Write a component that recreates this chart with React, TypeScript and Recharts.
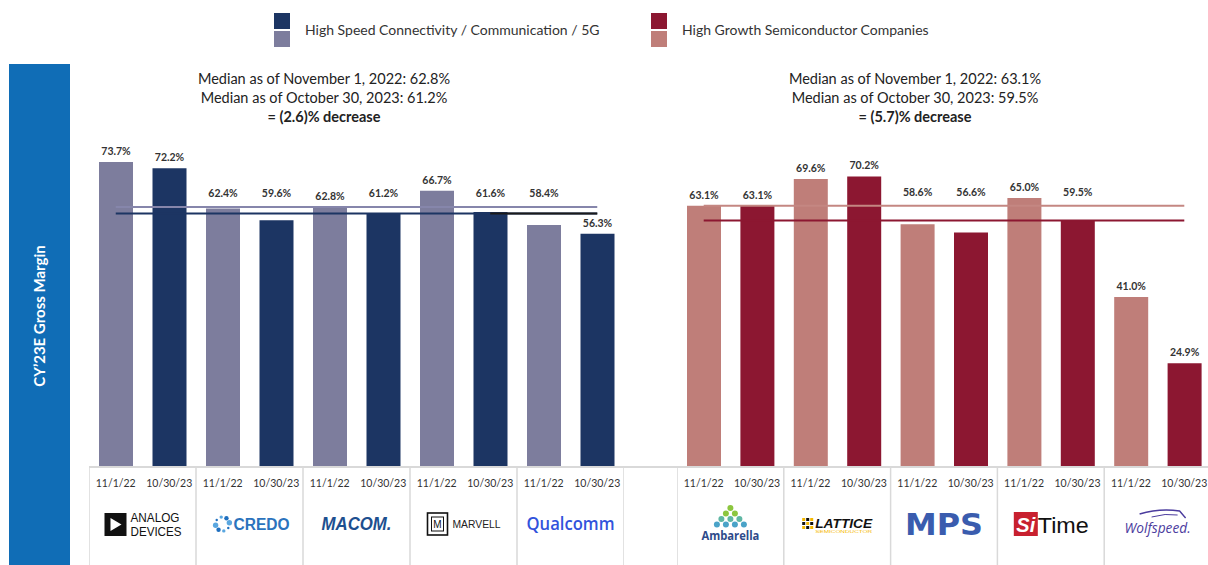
import React from 'react'
import { ComposedChart, Bar, Line, Cell, XAxis, YAxis, LabelList } from 'recharts'

const FONT = 'Lato, "Open Sans", sans-serif'

const DATES = ['11/1/22', '10/30/23']

const connectivityCompanies = ['Analog Devices', 'Credo', 'MACOM', 'Marvell', 'Qualcomm']
const connectivityNov22 = [73.7, 62.4, 62.8, 66.7, 58.4]
const connectivityOct23 = [72.2, 59.6, 61.2, 61.6, 56.3]
const connectivityMedians = [62.8, 61.2]
const connectivityChange = 2.6

const growthCompanies = ['Ambarella', 'Lattice', 'MPS', 'SiTime', 'Wolfspeed']
const growthNov22 = [63.1, 69.6, 58.6, 65.0, 41.0]
const growthOct23 = [63.1, 70.2, 56.6, 59.5, 24.9]
const growthMedians = [63.1, 59.5]
const growthChange = 5.7

// the 2023 median line turns black over the last three bars on the left panel
const connectivityTailFrom = 7

const NAVY = '#1c3563'
const LAVENDER = '#7d7d9d'
const CRIMSON = '#8c1731'
const ROSE = '#bf7e79'
const BORDER = '#d9d9d9'

type Row = {
  key: string
  company: string
  date: string
  period: number
  value: number
  medPrev: number
  medCurr: number
  medTail: number | null
}

function buildRows(companies: string[], prev: number[], curr: number[], medians: number[], tailFrom = 99): Row[] {
  const rows: Row[] = []
  companies.forEach((company, i) => {
    ;[prev[i], curr[i]].forEach((value, p) => {
      const idx = rows.length
      rows.push({
        key: `${company}-${p}`,
        company,
        date: DATES[p],
        period: p,
        value,
        medPrev: medians[0],
        medCurr: medians[1],
        medTail: idx >= tailFrom ? medians[1] : null,
      })
    })
  })
  return rows
}

const leftRows = buildRows(connectivityCompanies, connectivityNov22, connectivityOct23, connectivityMedians, connectivityTailFrom)
const rightRows = buildRows(growthCompanies, growthNov22, growthOct23, growthMedians)

function Logo({ name, cx, cy }: { name: string; cx: number; cy: number }) {
  switch (name) {
    case 'Analog Devices':
      return (
        <g>
          <rect x={cx - 38} y={cy - 11} width={22} height={23} fill="#111" />
          <polygon points={`${cx - 32},${cy - 6} ${cx - 32},${cy + 7} ${cx - 21},${cy + 0.5}`} fill="#fff" />
          <text x={cx - 12} y={cy - 2} fontSize={12} fontFamily="Liberation Sans, Arial" fill="#111" textLength={49} lengthAdjust="spacingAndGlyphs">ANALOG</text>
          <text x={cx - 12} y={cy + 12} fontSize={12} fontFamily="Liberation Sans, Arial" fill="#111" textLength={51} lengthAdjust="spacingAndGlyphs">DEVICES</text>
        </g>
      )
    case 'Credo': {
      const dots = [0, 1, 2, 3, 4, 5, 6, 7].map(k => {
        const a = (Math.PI * 2 * k) / 8 + 0.6
        return <circle key={k} cx={cx - 27 + Math.cos(a) * 7} cy={cy + Math.sin(a) * 7} r={1.2 + (k % 4) * 0.5} fill={k % 2 ? '#5aa7e0' : '#1f6fbf'} />
      })
      return (
        <g>
          {dots}
          <text x={cx - 16} y={cy + 6} fontSize={16} fontWeight={700} fontFamily="Liberation Sans, Arial" fill="#2b73bd" textLength={56} lengthAdjust="spacingAndGlyphs">CREDO</text>
        </g>
      )
    }
    case 'MACOM':
      return (
        <text x={cx} y={cy + 6} textAnchor="middle" fontSize={18} fontWeight={900} fontStyle="italic" fontFamily="Liberation Sans, Arial" fill="#1d4f8f" textLength={70} lengthAdjust="spacingAndGlyphs">MACOM.</text>
      )
    case 'Marvell':
      return (
        <g>
          <rect x={cx - 36} y={cy - 11} width={20} height={22} fill="none" stroke="#111" strokeWidth={1.6} />
          <rect x={cx - 32} y={cy - 7} width={12} height={14} fill="none" stroke="#111" strokeWidth={1} />
          <text x={cx - 26} y={cy + 4} textAnchor="middle" fontSize={10} fontFamily="Liberation Sans, Arial" fill="#111">M</text>
          <text x={cx - 11} y={cy + 4} fontSize={10} fontFamily="Liberation Sans, Arial" fill="#222" textLength={48} lengthAdjust="spacingAndGlyphs">MARVELL</text>
        </g>
      )
    case 'Qualcomm':
      return (
        <text x={cx} y={cy + 6} textAnchor="middle" fontSize={18} fontWeight={600} fontFamily="Open Sans, sans-serif" fill="#3253dc" textLength={88} lengthAdjust="spacingAndGlyphs">Qualcomm</text>
      )
    case 'Ambarella': {
      const tri: React.ReactNode[] = []
      for (let r = 0; r < 4; r++) {
        for (let c = 0; c <= r; c++) {
          const px = cx - r * 4.5 + c * 9
          const py = cy - 16 + r * 5.5
          tri.push(<circle key={`${r}-${c}`} cx={px} cy={py} r={3} fill={r < 2 ? '#8cc63f' : r < 3 ? '#5fb7a4' : '#4aa3c8'} />)
        }
      }
      return (
        <g>
          {tri}
          <text x={cx} y={cy + 16} textAnchor="middle" fontSize={12.5} fontWeight={700} fontFamily="Open Sans, sans-serif" fill="#2d4a8a" textLength={58} lengthAdjust="spacingAndGlyphs">Ambarella</text>
        </g>
      )
    }
    case 'Lattice': {
      const sq: React.ReactNode[] = []
      for (let r = 0; r < 3; r++) {
        for (let c = 0; c < 3; c++) {
          sq.push(<rect key={`${r}-${c}`} x={cx - 35 + c * 4} y={cy - 6 + r * 4} width={3} height={3} fill={(r + c) % 2 ? '#111' : '#f5b800'} />)
        }
      }
      return (
        <g>
          {sq}
          <text x={cx - 22} y={cy + 4} fontSize={13} fontWeight={700} fontStyle="italic" fontFamily="Liberation Sans, Arial" fill="#111" textLength={57} lengthAdjust="spacingAndGlyphs">LATTICE</text>
          <text x={cx - 22} y={cy + 9} fontSize={3.5} fontFamily="Liberation Sans, Arial" fill="#f5b800" textLength={57} lengthAdjust="spacingAndGlyphs">SEMICONDUCTOR</text>
        </g>
      )
    }
    case 'MPS':
      return (
        <text x={cx} y={cy + 11} textAnchor="middle" fontSize={30} fontWeight={700} fontFamily="DejaVu Sans, sans-serif" fill="#3a5cae" textLength={78} lengthAdjust="spacingAndGlyphs">MPS</text>
      )
    case 'SiTime':
      return (
        <g>
          <rect x={cx - 37} y={cy - 12} width={24} height={24} fill="#c8202f" />
          <text x={cx - 25} y={cy + 8} textAnchor="middle" fontSize={20} fontWeight={700} fontStyle="italic" fontFamily="Liberation Sans, Arial" fill="#fff">Si</text>
          <text x={cx - 13} y={cy + 9} fontSize={22} fontFamily="Liberation Sans, Arial" fill="#111" textLength={51} lengthAdjust="spacingAndGlyphs">Time</text>
        </g>
      )
    case 'Wolfspeed':
      return (
        <g>
          <path d={`M ${cx - 18} ${cy - 10} Q ${cx + 2} ${cy - 16} ${cx + 22} ${cy - 13} L ${cx + 28} ${cy - 6}`} fill="none" stroke="#4b3c9e" strokeWidth={1.4} />
          <path d={`M ${cx - 6} ${cy - 7} Q ${cx + 8} ${cy - 11} ${cx + 20} ${cy - 9}`} fill="none" stroke="#4b3c9e" strokeWidth={1} />
          <text x={cx} y={cy + 9} textAnchor="middle" fontSize={15} fontStyle="italic" fontFamily="Open Sans, sans-serif" fill="#4b3c9e" textLength={66} lengthAdjust="spacingAndGlyphs">Wolfspeed.</text>
        </g>
      )
    default:
      return null
  }
}

function TableTick(props: any) {
  const { x, y, payload, rows, band } = props
  const idx = rows.findIndex((r: Row) => r.key === payload.value)
  const row: Row = rows[idx]
  if (!row) return null
  const first = row.period === 0
  return (
    <g>
      <text x={x} y={y + 21} textAnchor="middle" fontSize={10.5} fontFamily={FONT} fill="#333">{row.date}</text>
      {first && <line x1={x - band / 2} x2={x - band / 2} y1={y} y2={y + 110} stroke={BORDER} strokeWidth={1.5} />}
      {idx === rows.length - 1 && <line x1={x + band / 2} x2={x + band / 2} y1={y} y2={y + 110} stroke={BORDER} strokeWidth={1.5} />}
      {first && <Logo name={row.company} cx={x + band / 2} cy={y + 58} />}
    </g>
  )
}

// value labels that would sit on or between the median lines are lifted above them
function ValueLabel(props: any) {
  const { x, y, width, height, value, medians } = props
  const perUnit = height / value
  const base = y + height
  const upperY = base - Math.max(...medians) * perUnit
  const lowerY = base - Math.min(...medians) * perUnit
  const lift = y > upperY && y - 17 < lowerY + 1
  const top = lift ? upperY - 10 : y - 7
  return (
    <text x={x + width / 2} y={top} textAnchor="middle" fontSize={10.5} fontWeight={700} fontFamily={FONT} fill="#333">
      {`${Number(value).toFixed(1)}%`}
    </text>
  )
}

function Panel({ rows, width, light, dark, lightLine, darkLine, tail }: any) {
  const band = width / rows.length
  const medians = [rows[0].medPrev, rows[0].medCurr]
  return (
    <ComposedChart width={width} height={565} data={rows} margin={{ top: 136, right: 0, bottom: 0, left: 0 }}>
      <YAxis hide domain={[0, 80]} />
      <XAxis
        dataKey="key"
        height={99}
        interval={0}
        tickLine={false}
        tickSize={0}
        tickMargin={0}
        axisLine={false}
        tick={(p: any) => <TableTick {...p} rows={rows} band={band} />}
      />
      <Bar dataKey="value" barSize={34} isAnimationActive={false}>
        {rows.map((r: Row) => (
          <Cell key={r.key} fill={r.period === 0 ? light : dark} />
        ))}
        <LabelList dataKey="value" content={(p: any) => <ValueLabel {...p} medians={medians} />} />
      </Bar>
      <Line dataKey="medPrev" type="linear" stroke={lightLine} strokeWidth={2} dot={false} activeDot={false} isAnimationActive={false} />
      <Line dataKey="medCurr" type="linear" stroke={darkLine} strokeWidth={2} dot={false} activeDot={false} isAnimationActive={false} />
      {tail && <Line dataKey="medTail" type="linear" stroke="#1a1a1a" strokeWidth={2} dot={false} activeDot={false} isAnimationActive={false} connectNulls={false} />}
    </ComposedChart>
  )
}

function Header({ center, medians, change }: { center: number; medians: number[]; change: number }) {
  return (
    <div style={{ position: 'absolute', left: center - 160, top: 69, width: 320, textAlign: 'center', fontFamily: FONT, fontSize: 14.5, lineHeight: '19px', color: '#222' }}>
      <div>Median as of November 1, 2022: {medians[0].toFixed(1)}%</div>
      <div>Median as of October 30, 2023: {medians[1].toFixed(1)}%</div>
      <div style={{ fontWeight: 700 }}>= ({change.toFixed(1)})% decrease</div>
    </div>
  )
}

function LegendItem({ left, label, dark, light }: { left: number; label: string; dark: string; light: string }) {
  return (
    <div style={{ position: 'absolute', left, top: 13 }}>
      <div style={{ width: 16, height: 16, background: dark }} />
      <div style={{ width: 16, height: 16, marginTop: 2, background: light }} />
      <div style={{ position: 'absolute', left: 31, top: 8, whiteSpace: 'nowrap', fontFamily: FONT, fontSize: 14, color: '#333' }}>{label}</div>
    </div>
  )
}

export default function App() {
  return (
    <div style={{ position: 'absolute', left: 0, top: 0, width: 1208, height: 565, overflow: 'hidden', background: '#fff' }}>
      <div style={{ position: 'absolute', left: 9, top: 64, width: 61, height: 501, background: '#106db6' }}>
        <div style={{ position: 'absolute', left: 30, top: 252, transform: 'translate(-50%, -50%) rotate(-90deg)', whiteSpace: 'nowrap', color: '#fff', fontWeight: 700, fontFamily: FONT, fontSize: 15 }}>
          CY’23E Gross Margin
        </div>
      </div>
      <div style={{ position: 'absolute', left: 89, top: 466, width: 1125, height: 1.5, background: BORDER }} />
      <div style={{ position: 'absolute', left: 89, top: 0 }}>
        <Panel rows={leftRows} width={535} light={LAVENDER} dark={NAVY} lightLine="#8686ab" darkLine={NAVY} tail />
      </div>
      <div style={{ position: 'absolute', left: 677, top: 0 }}>
        <Panel rows={rightRows} width={534} light={ROSE} dark={CRIMSON} lightLine="#c48782" darkLine={CRIMSON} />
      </div>
      <Header center={324} medians={connectivityMedians} change={connectivityChange} />
      <Header center={915} medians={growthMedians} change={growthChange} />
      <LegendItem left={274} label="High Speed Connectivity / Communication / 5G" dark={NAVY} light={LAVENDER} />
      <LegendItem left={651} label="High Growth Semiconductor Companies" dark={CRIMSON} light={ROSE} />
    </div>
  )
}
